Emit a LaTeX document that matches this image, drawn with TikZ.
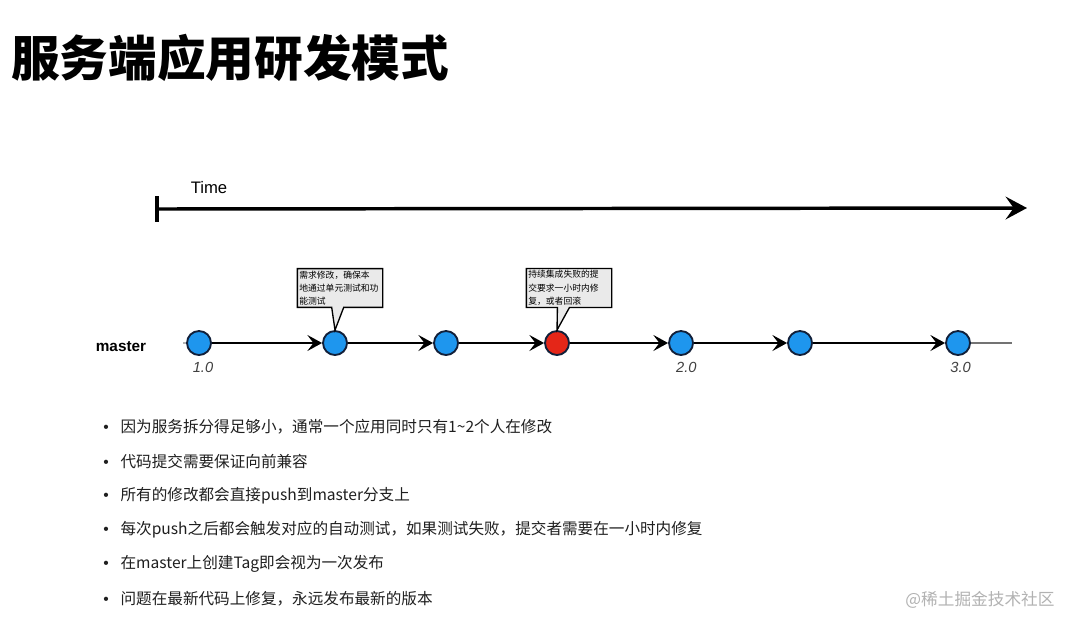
\documentclass[tikz,border=0pt]{standalone}
\usepackage{fontspec}
\setmainfont{Noto Sans CJK SC}
\newfontfamily\latin{Liberation Sans}
\usetikzlibrary{positioning, arrows.meta, shapes.callouts}
\definecolor{commitblue}{RGB}{30,150,238}
\definecolor{commitred}{RGB}{228,38,24}
\definecolor{commitrim}{RGB}{18,32,58}
\definecolor{notegray}{RGB}{234,234,234}
\newcommand{\dotmark}{\makebox[13pt][l]{\latin\textbullet}}

\begin{document}
\begin{tikzpicture}[x=0.75pt, y=-0.75pt, commit/.style={circle, draw=commitrim, line width=1.4pt, fill=commitblue, minimum size=18pt, inner sep=0pt}, arrow/.style={-{Stealth[length=11pt, width=12pt, inset=4.5pt]}, line width=1.8pt}, note/.style={rectangle callout, draw, line width=1pt, fill=notegray, align=left, text width=61pt, inner sep=1.5pt, callout pointer width=9pt, font=\fontsize{6.6}{10}\selectfont}, tag/.style={font=\latin\itshape\fontsize{11}{13}\selectfont, text=black!75}, item/.style={inner sep=0pt, font=\fontsize{11.7}{14}\selectfont, text=black!88}]
  \useasboundingbox[fill=white] (0,0) rectangle (1080,629);

  % title
  \node[anchor=west, inner sep=0pt, font=\bfseries\fontsize{36.5}{40}\selectfont] (title) at (11,58) {服务端应用研发模式};

  % time axis
  \node[fill=black, minimum width=2.5pt, minimum height=19pt, inner sep=0pt] (tstart) at (157,209) {};
  \coordinate (tend) at (1027,208);
  \draw[-{Stealth[length=16pt, width=17pt, inset=6pt]}, line width=2.6pt] (tstart) -- (tend);
  \node[font=\latin\fontsize{12.5}{14}\selectfont] (time) at (209,188) {Time};

  % master branch
  \node[font=\latin\bfseries\fontsize{11.5}{13}\selectfont] (master) at (121,347) {master};
  \node[commit] (c1) at (199,343) {};
  \node[commit] (c2) at (335,343) {};
  \node[commit] (c3) at (446,343) {};
  \node[commit, fill=commitred] (c4) at (557,343) {};
  \node[commit] (c5) at (681,343) {};
  \node[commit] (c6) at (800,343) {};
  \node[commit] (c7) at (958,343) {};
  \coordinate (head) at (183,343);
  \coordinate (tail) at (1012,343);

  \draw[line width=1pt, black!30] (head) -- (c1);
  \draw[arrow] (c1) -- (c2); \draw[arrow] (c2) -- (c3); \draw[arrow] (c3) -- (c4);
  \draw[arrow] (c4) -- (c5); \draw[arrow] (c5) -- (c6); \draw[arrow] (c6) -- (c7);
  \draw[line width=1.4pt, black!55] (c7) -- (tail);

  \node[tag, below=1pt of c1, xshift=3pt] (v1) {1.0};
  \node[tag, below=1pt of c5, xshift=4pt] (v2) {2.0};
  \node[tag, below=1pt of c7, xshift=2pt] (v3) {3.0};

  % notes
  \node[note, callout absolute pointer={(c2.north)}] (n1) at (340,288) {需求修改，确保本\\地通过单元测试和功\\能测试};
  \node[note, callout absolute pointer={(c4.north)}] (n2) at (569,288) {持续集成失败的提\\交要求一小时内修\\复，或者回滚};

  % bullets
  \node[item, anchor=west] (b1) at (103,427) {\dotmark 因为服务拆分得足够小，通常一个应用同时只有1\textasciitilde2个人在修改};
  \node[item, below=26pt of b1.west, anchor=west] (b2) {\dotmark 代码提交需要保证向前兼容};
  \node[item, below=25.5pt of b2.west, anchor=west] (b3) {\dotmark 所有的修改都会直接push到master分支上};
  \node[item, below=25.5pt of b3.west, anchor=west] (b4) {\dotmark 每次push之后都会触发对应的自动测试，如果测试失败，提交者需要在一小时内修复};
  \node[item, below=26pt of b4.west, anchor=west] (b5) {\dotmark 在master上创建Tag即会视为一次发布};
  \node[item, below=26pt of b5.west, anchor=west] (b6) {\dotmark 问题在最新代码上修复，永远发布最新的版本};

  \node[text=black!30, font=\fontsize{12.5}{14}\selectfont] (mark) at (980,600) {@稀土掘金技术社区};
\end{tikzpicture}
\end{document}
